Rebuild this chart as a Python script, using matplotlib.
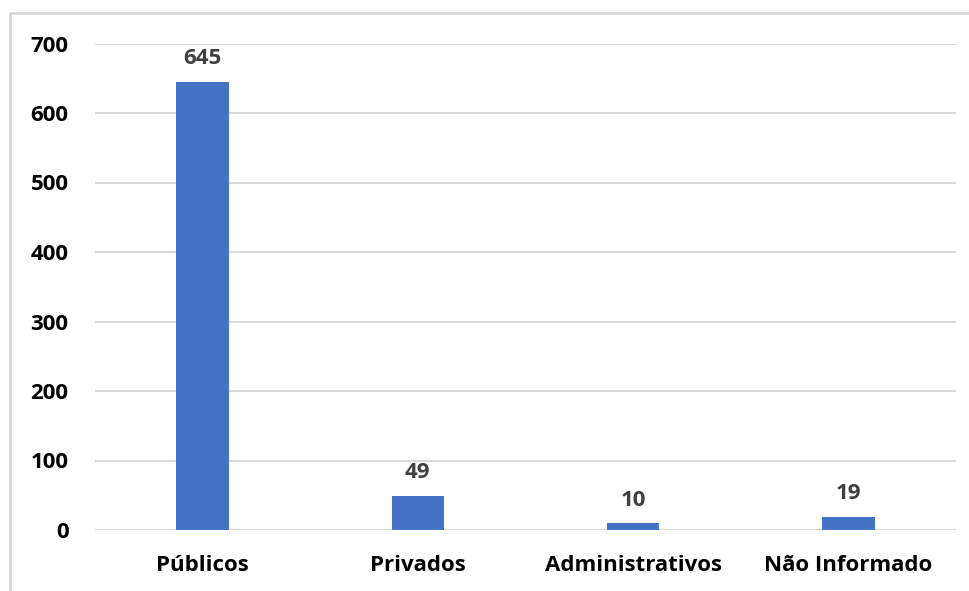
import matplotlib.pyplot as plt
from matplotlib.patches import Rectangle

categorias = ['Públicos', 'Privados', 'Administrativos', 'Não Informado']
valores = [645, 49, 10, 19]
yticks = [0, 100, 200, 300, 400, 500, 600, 700]

plt.rcParams['font.family'] = ['Open Sans', 'DejaVu Sans']

W, H = 970, 591
fig = plt.figure(figsize=(W / 100, H / 100), dpi=100)

# moldura cinza clara em volta do gráfico
fig.add_artist(Rectangle((10 / W, -0.1), 1.1, (H - 13) / H + 0.1,
                         transform=fig.transFigure, fill=False,
                         edgecolor='#d9d9d9', linewidth=2))

ax = fig.add_axes([95 / W, (H - 530) / H, 861 / W, 486.5 / H])
x = range(len(categorias))
barras = ax.bar(x, valores, width=0.245, color='#4472C4', zorder=3)

for b, v in zip(barras, valores):
    ax.annotate(str(v), (b.get_x() + b.get_width() / 2, v),
                xytext=(0, 9), textcoords='offset points',
                ha='center', va='bottom', fontsize=16,
                fontweight='bold', color='#404040')

ax.set_xlim(-0.5, len(categorias) - 0.5)
ax.set_ylim(0, 700)
ax.set_yticks(yticks)
ax.set_xticks(list(x))
ax.set_xticklabels(categorias)
ax.grid(axis='y', color='#d9d9d9', linewidth=1.5, zorder=0)
for s in ax.spines.values():
    s.set_visible(False)
ax.tick_params(length=0, labelsize=16, labelcolor='black')
ax.tick_params(axis='y', pad=19)
ax.tick_params(axis='x', pad=18)
for lbl in ax.get_xticklabels() + ax.get_yticklabels():
    lbl.set_fontweight('bold')

fig.savefig('out.png', dpi=100)
